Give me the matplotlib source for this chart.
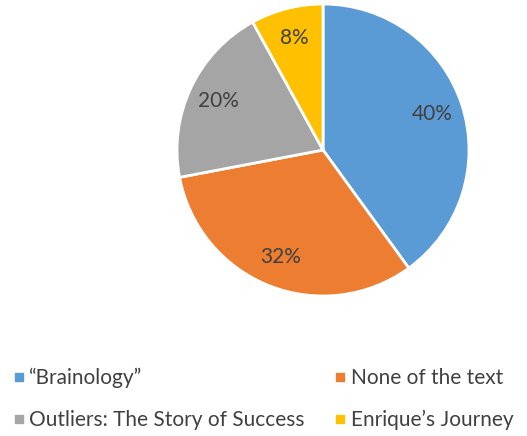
import matplotlib.pyplot as plt
from matplotlib.lines import Line2D

plt.rcParams['font.family'] = ['Lato', 'DejaVu Sans']

# data
labels = ['\u201cBrainology\u201d', 'None of the text', 'Outliers: The Story of Success', 'Enrique\u2019s Journey']
values = [40, 32, 20, 8]
colors = ['#5B9BD5', '#ED7D31', '#A5A5A5', '#FFC000']
txt = '#404040'

fig = plt.figure(figsize=(5.27, 4.36), dpi=100)
ax = fig.add_axes([177/527, 140/436, 292/527, 292/436])

wedges, texts, autotexts = ax.pie(values, colors=colors, startangle=90, counterclock=False,
                                  autopct='%1.0f%%', pctdistance=0.79,
                                  wedgeprops=dict(edgecolor='white', linewidth=2))
for t in autotexts:
    t.set_color(txt)
    t.set_fontsize(15)
ax.set_xlim(-1, 1)
ax.set_ylim(-1, 1)
ax.set_aspect('equal')

# legend fills row by row, so reorder for matplotlib's column-major layout
order = [0, 2, 1, 3]
handles = [Line2D([], [], marker='s', linestyle='', color=colors[i], markersize=6) for i in order]
leg = fig.legend(handles, [labels[i] for i in order], loc='upper left',
                 bbox_to_anchor=(-6/527, 1-349/436),
                 ncol=2, frameon=False, fontsize=15, handlelength=0.6, handletextpad=0.2,
                 columnspacing=1.4, labelspacing=1.05, labelcolor=txt)

fig.savefig('out.png', dpi=100)
